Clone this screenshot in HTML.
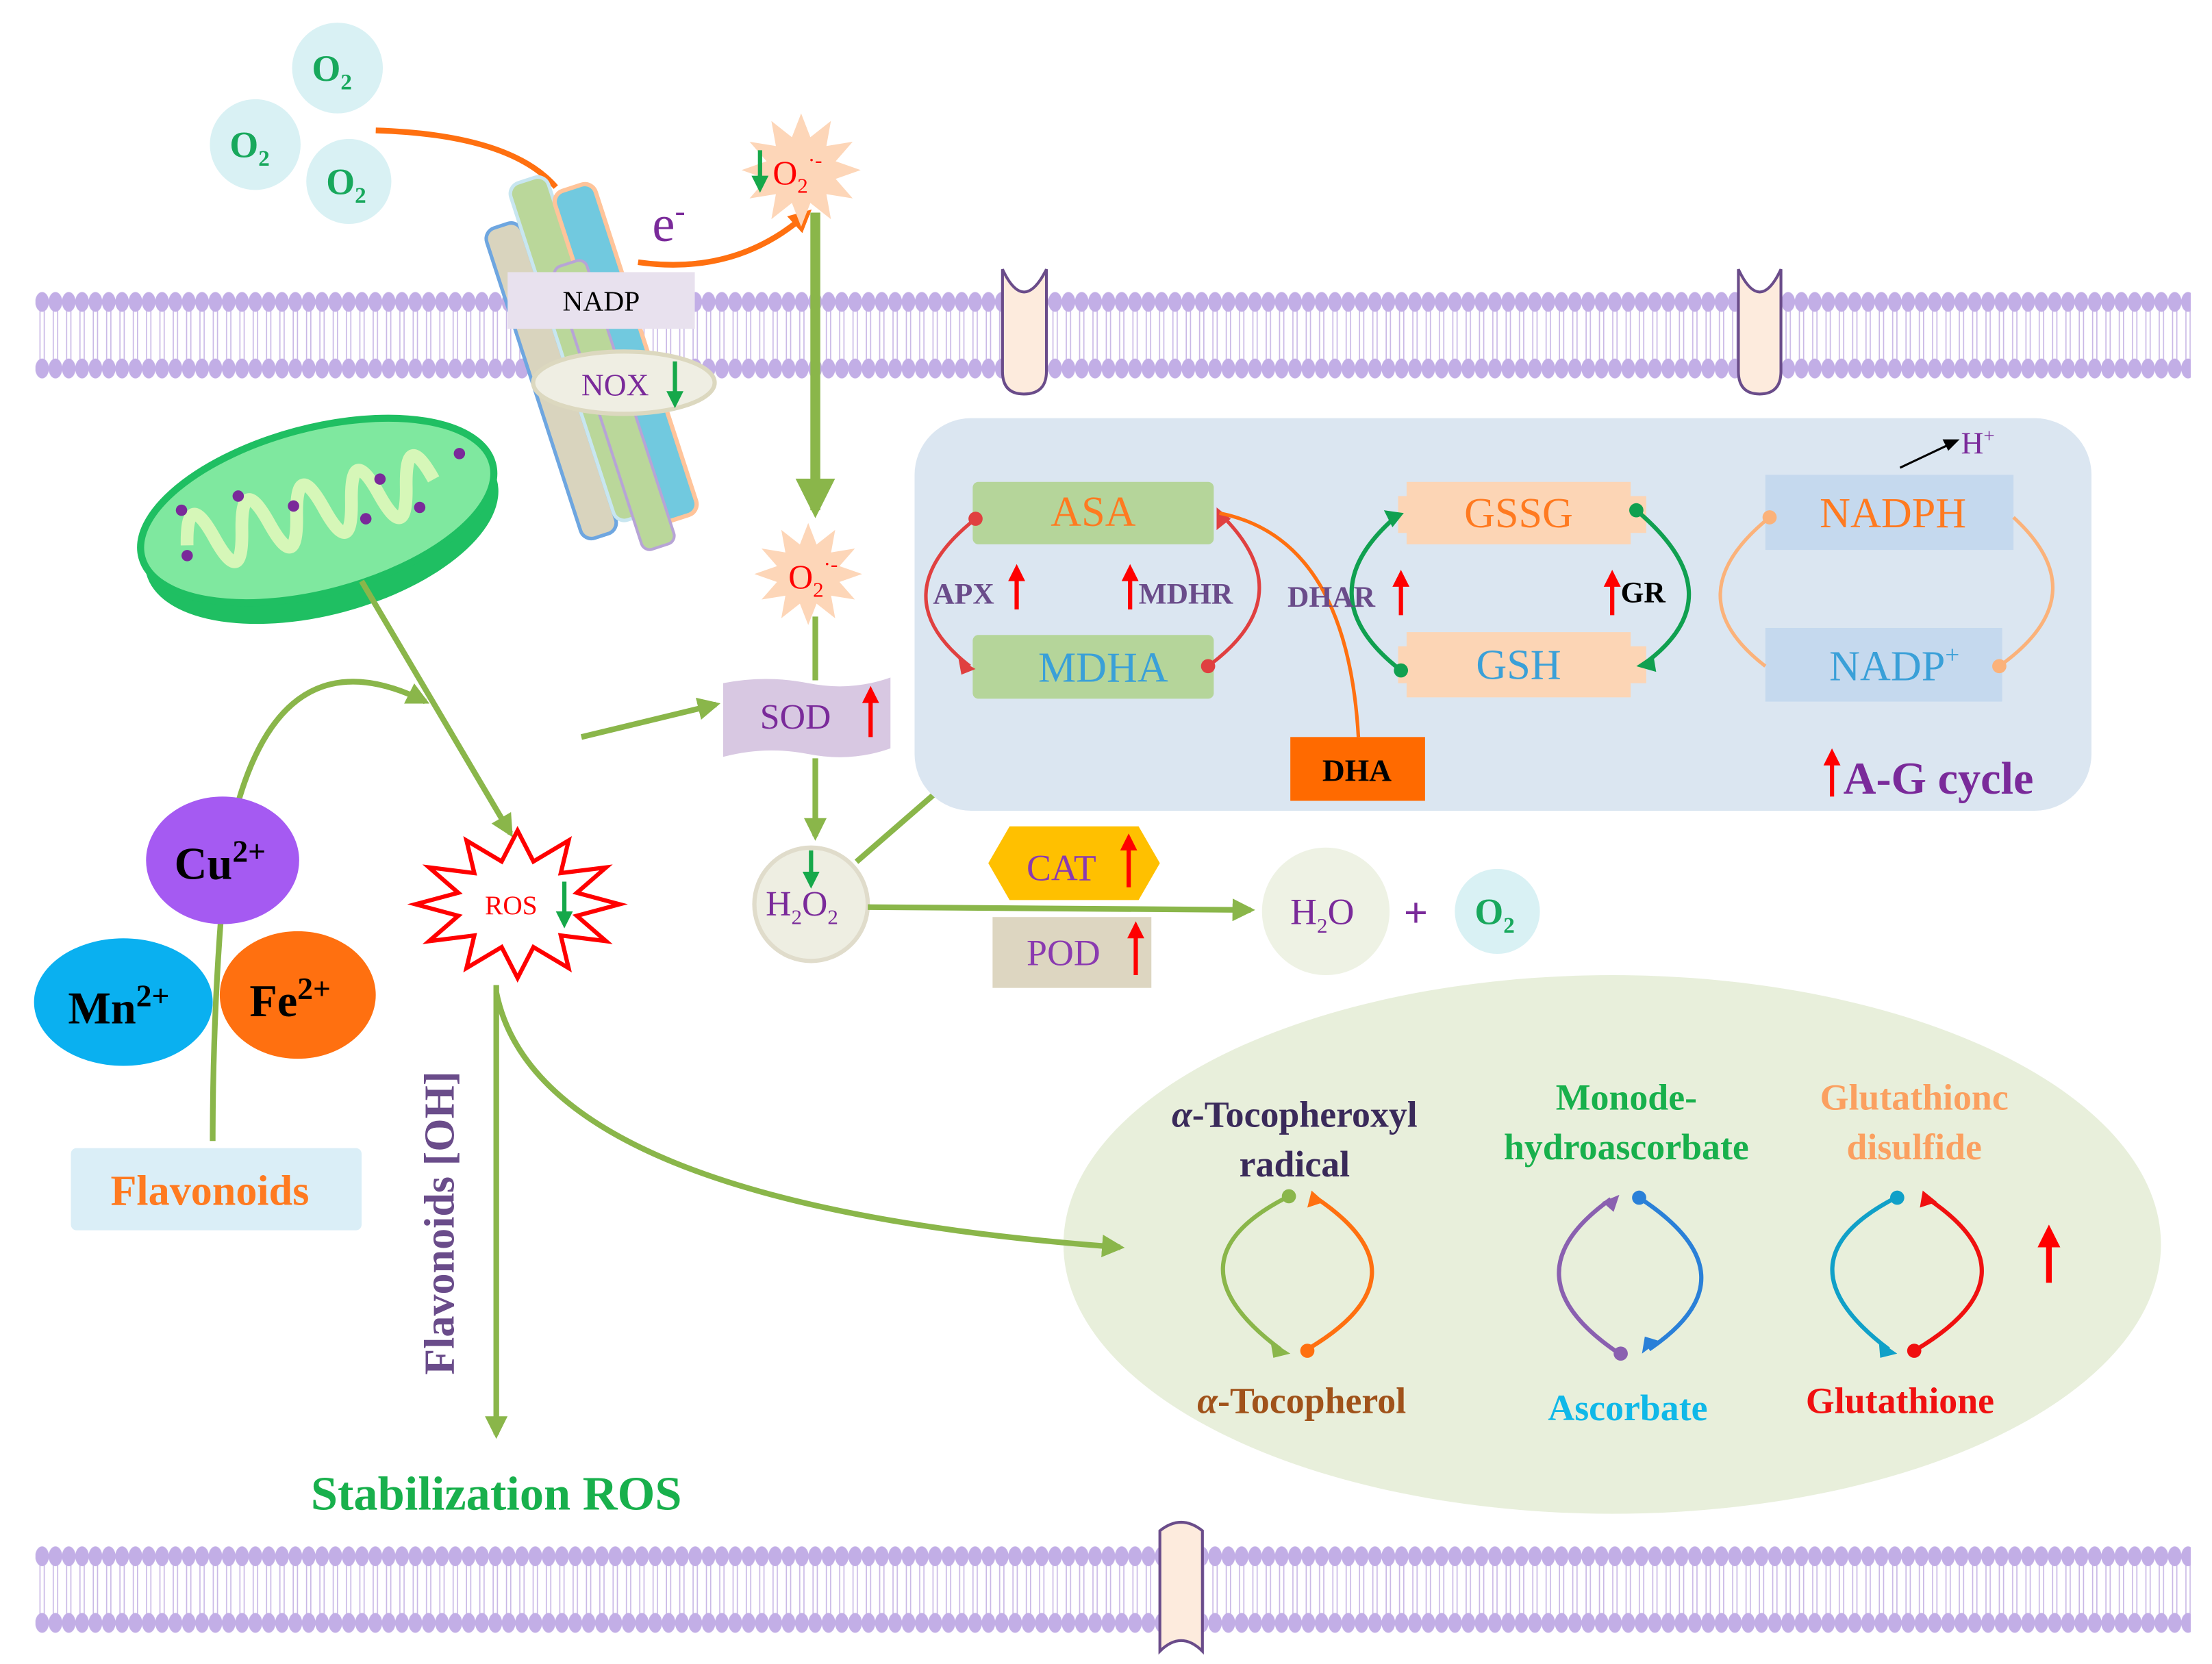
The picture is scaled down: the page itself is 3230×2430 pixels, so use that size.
<!DOCTYPE html>
<html><head><meta charset="utf-8"><style>
html,body{margin:0;padding:0;background:#fff;}
svg{display:block;}
text{font-family:"Liberation Serif",serif;}
</style></head><body>
<svg width="3230" height="2430" viewBox="0 0 1560 1174" preserveAspectRatio="none" xmlns="http://www.w3.org/2000/svg">
<defs>
<pattern id="mem" x="25" y="200" width="9.4" height="72" patternUnits="userSpaceOnUse">
<line x1="3.2" y1="18" x2="3.2" y2="54" stroke="#c9b8e6" stroke-width="0.8"/>
<line x1="6.2" y1="18" x2="6.2" y2="54" stroke="#c9b8e6" stroke-width="0.8"/>
<ellipse cx="4.7" cy="13" rx="4.8" ry="7" fill="#c2aee6"/>
<ellipse cx="4.7" cy="60" rx="4.8" ry="7" fill="#c2aee6"/>
</pattern>
<pattern id="mem2" x="25" y="1085" width="9.4" height="72" patternUnits="userSpaceOnUse">
<line x1="3.2" y1="18" x2="3.2" y2="54" stroke="#c9b8e6" stroke-width="0.8"/>
<line x1="6.2" y1="18" x2="6.2" y2="54" stroke="#c9b8e6" stroke-width="0.8"/>
<ellipse cx="4.7" cy="13" rx="4.8" ry="7" fill="#c2aee6"/>
<ellipse cx="4.7" cy="60" rx="4.8" ry="7" fill="#c2aee6"/>
</pattern>
<polygon id="star" points="1,0 .58,.155 .866,.5 .424,.424 .5,.866 .155,.58 0,1 -.155,.58 -.5,.866 -.424,.424 -.866,.5 -.58,.155 -1,0 -.58,-.155 -.866,-.5 -.424,-.424 -.5,-.866 -.155,-.58 0,-1 .155,-.58 .5,-.866 .424,-.424 .866,-.5 .58,-.155"/>
<marker id="ag" viewBox="0 0 10 10" refX="8" refY="5" markerWidth="4" markerHeight="4" orient="auto"><path d="M0,0 L10,5 L0,10 z" fill="#8ab64a"/></marker>
<marker id="ao" viewBox="0 0 10 10" refX="8" refY="5" markerWidth="4" markerHeight="4" orient="auto"><path d="M0,0 L10,5 L0,10 z" fill="#ff7010"/></marker>
</defs>

<rect x="25" y="200" width="1520" height="72" fill="url(#mem)"/>
<rect x="25" y="1085" width="1520" height="72" fill="url(#mem2)"/>
<path d="M707,190 L707,262 Q707,278 722,278 Q738,278 738,262 L738,190 Q722,222 707,190 Z" fill="#fdebdd" stroke="#6a4c8a" stroke-width="2"/>
<path d="M1226,190 L1226,262 Q1226,278 1241,278 Q1256,278 1256,262 L1256,190 Q1241,222 1226,190 Z" fill="#fdebdd" stroke="#6a4c8a" stroke-width="2"/>
<path d="M818,1080 Q833,1068 848,1080 L848,1165 Q833,1150 818,1165 Z" fill="#fdebdd" stroke="#6a4c8a" stroke-width="2"/>

<circle cx="238" cy="48" r="32" fill="#d9f1f4"/>
<circle cx="180" cy="102" r="32" fill="#d9f1f4"/>
<circle cx="246" cy="128" r="30" fill="#d9f1f4"/>
<g font-weight="bold" fill="#18a85c" font-size="26">
<text x="220" y="57">O<tspan font-size="16" dy="6">2</tspan></text>
<text x="162" y="111">O<tspan font-size="16" dy="6">2</tspan></text>
<text x="230" y="137">O<tspan font-size="16" dy="6">2</tspan></text>
</g>
<path d="M265,92 Q360,95 392,132" fill="none" stroke="#ff7010" stroke-width="4"/>

<g transform="rotate(-18 430 250)">
<rect x="372" y="140" width="26" height="230" rx="8" fill="#d9d4be" stroke="#6ea6e0" stroke-width="2.5"/>
<rect x="398" y="115" width="28" height="250" rx="8" fill="#bad79a" stroke="#c8e6f0" stroke-width="2.5"/>
<rect x="426" y="130" width="30" height="245" rx="8" fill="#71c9df" stroke="#ffc49a" stroke-width="3"/>
<rect x="410" y="180" width="24" height="210" rx="6" fill="#bad79a" stroke="#b7a4d6" stroke-width="2"/>
</g>
<path d="M450,185 Q520,195 570,150" fill="none" stroke="#ff7010" stroke-width="4" marker-end="url(#ao)"/>
<text x="460" y="170" font-size="36" fill="#7a2a9a">e<tspan font-size="22" dy="-14">-</tspan></text>
<rect x="358" y="192" width="132" height="40" fill="#e8e1ee"/>
<text x="424" y="219" font-size="20" text-anchor="middle" fill="#000">NADP</text>
<ellipse cx="440" cy="270" rx="64" ry="22" fill="#efeee3" stroke="#dcd8bf" stroke-width="3"/>
<text x="410" y="279" font-size="22" fill="#7a2a9a">NOX</text>
<path d="M476,255 L476,280" stroke="#16a84a" stroke-width="3"/><path d="M470,276 L476,288 L482,276 Z" fill="#16a84a"/>

<use href="#star" transform="translate(565,120) scale(42,40)" fill="#fdd6b8"/>
<text x="545" y="130" font-size="24" fill="#f00">O<tspan font-size="15" dy="6">2</tspan><tspan font-size="15" dy="-18">·-</tspan></text>
<path d="M536,106 L536,128" stroke="#16a84a" stroke-width="3"/><path d="M530,124 L536,136 L542,124 Z" fill="#16a84a"/>

<line x1="575" y1="150" x2="575" y2="360" stroke="#8ab64a" stroke-width="7" marker-end="url(#ag)"/>
<use href="#star" transform="translate(570,405) scale(38,36)" fill="#fdd6b8"/>
<text x="556" y="415" font-size="24" fill="#f00">O<tspan font-size="15" dy="6">2</tspan><tspan font-size="15" dy="-18">·-</tspan></text>
<line x1="575" y1="435" x2="575" y2="480" stroke="#8ab64a" stroke-width="4"/>
<line x1="575" y1="535" x2="575" y2="590" stroke="#8ab64a" stroke-width="4" marker-end="url(#ag)"/>
<path d="M510,482 Q540,476 570,482 Q600,488 628,478 L628,528 Q600,538 570,532 Q540,526 510,534 Z" fill="#d8c8e2"/>
<text x="536" y="514" font-size="25" fill="#7a2a9a">SOD</text>
<path d="M614,490 L614,520" stroke="#f00" stroke-width="3"/><path d="M608,496 L614,484 L620,496 Z" fill="#f00"/>

<g transform="rotate(-15 225 365)">
<ellipse cx="225" cy="372" rx="128" ry="62" fill="#1fbf62"/>
<ellipse cx="225" cy="360" rx="128" ry="58" fill="#7fe89f" stroke="#1fbf62" stroke-width="5"/>
<path d="M130,360 Q140,320 150,360 Q160,400 170,360 Q180,320 190,360 Q200,400 210,360 Q220,320 230,360 Q240,400 250,360 Q260,320 270,360 Q280,400 290,360 Q300,320 310,360" fill="none" stroke="#d6f7b8" stroke-width="9"/>
</g>
<g fill="#7a2a9a"><circle cx="128" cy="360" r="4"/><circle cx="168" cy="350" r="4"/><circle cx="207" cy="357" r="4"/><circle cx="258" cy="366" r="4"/><circle cx="268" cy="338" r="4"/><circle cx="296" cy="358" r="4"/><circle cx="324" cy="320" r="4"/><circle cx="132" cy="392" r="4"/></g>

<line x1="255" y1="410" x2="360" y2="588" stroke="#8ab64a" stroke-width="4" marker-end="url(#ag)"/>
<path d="M150,805 Q150,700 160,600 Q190,440 300,495" fill="none" stroke="#8ab64a" stroke-width="4" marker-end="url(#ag)"/>
<line x1="410" y1="520" x2="505" y2="497" stroke="#8ab64a" stroke-width="4" marker-end="url(#ag)"/>

<ellipse cx="157" cy="607" rx="54" ry="45" fill="#a55af2"/>
<ellipse cx="87" cy="707" rx="63" ry="45" fill="#0ab0f0"/>
<ellipse cx="210" cy="702" rx="55" ry="45" fill="#ff7010"/>
<g font-weight="bold" font-size="32" fill="#000">
<text x="123" y="620">Cu<tspan font-size="22" dy="-12">2+</tspan></text>
<text x="48" y="722">Mn<tspan font-size="22" dy="-12">2+</tspan></text>
<text x="176" y="717">Fe<tspan font-size="22" dy="-12">2+</tspan></text>
</g>
<rect x="50" y="810" width="205" height="58" rx="4" fill="#daeef7"/>
<text x="148" y="850" font-size="30" font-weight="bold" fill="#ff7a20" text-anchor="middle">Flavonoids</text>

<polygon points="437,638 406.8,646.1 427.4,664 395.5,660 401,683 376.2,668.2 365,690 353.8,668.2 329,683 334.5,660 302.6,664 323.2,646.1 293,638 323.2,629.9 302.6,612 334.5,616 329,593 353.8,607.8 365,586 376.2,607.8 401,593 395.5,616 427.4,612 406.8,629.9" fill="#fff" stroke="#f00" stroke-width="3"/>
<text x="342" y="645" font-size="19" fill="#f00">ROS</text>
<path d="M398,622 L398,646" stroke="#16a84a" stroke-width="3"/><path d="M392,643 L398,655 L404,643 Z" fill="#16a84a"/>
<line x1="350" y1="695" x2="350" y2="1012" stroke="#8ab64a" stroke-width="4" marker-end="url(#ag)"/>
<text transform="translate(320,970) rotate(-90)" font-size="30" font-weight="bold" fill="#6a4c8a">Flavonoids [OH]</text>
<text x="350" y="1065" font-size="34" font-weight="bold" fill="#18b04c" text-anchor="middle">Stabilization ROS</text>

<circle cx="572" cy="638" r="40" fill="#eeeee2" stroke="#e0dccb" stroke-width="3"/>
<text x="540" y="646" font-size="25" fill="#7a2a9a">H<tspan font-size="15" dy="6">2</tspan><tspan dy="-6">O</tspan><tspan font-size="15" dy="6">2</tspan></text>
<path d="M572,600 L572,618" stroke="#16a84a" stroke-width="3"/><path d="M566,615 L572,627 L578,615 Z" fill="#16a84a"/>
<line x1="604" y1="608" x2="688" y2="535" stroke="#8ab64a" stroke-width="4" marker-end="url(#ag)"/>
<line x1="612" y1="640" x2="882" y2="642" stroke="#8ab64a" stroke-width="4" marker-end="url(#ag)"/>
<polygon points="697,609 712,583 803,583 818,609 803,635 712,635" fill="#ffc000"/>
<text x="724" y="621" font-size="26" fill="#8a3ab0">CAT</text>
<path d="M796,595 L796,626" stroke="#f00" stroke-width="3"/><path d="M790,600 L796,588 L802,600 Z" fill="#f00"/>
<rect x="700" y="647" width="112" height="50" fill="#ddd6c1"/>
<text x="724" y="681" font-size="26" fill="#8a3ab0">POD</text>
<path d="M801,657 L801,688" stroke="#f00" stroke-width="3"/><path d="M795,662 L801,650 L807,662 Z" fill="#f00"/>
<circle cx="935" cy="643" r="45" fill="#eef2e4"/>
<text x="910" y="652" font-size="26" fill="#7a2a9a">H<tspan font-size="15" dy="6">2</tspan><tspan dy="-6">O</tspan></text>
<text x="990" y="654" font-size="30" font-weight="bold" fill="#7a2a9a">+</text>
<circle cx="1056" cy="643" r="30" fill="#d9f1f4"/>
<text x="1040" y="652" font-size="26" font-weight="bold" fill="#18a85c">O<tspan font-size="16" dy="6">2</tspan></text>

<rect x="645" y="295" width="830" height="277" rx="40" fill="#dbe6f1"/>
<rect x="686" y="340" width="170" height="44" rx="4" fill="#b5d59a"/>
<text x="771" y="371" font-size="30" fill="#ff7a20" text-anchor="middle">ASA</text>
<rect x="686" y="448" width="170" height="45" rx="4" fill="#b5d59a"/>
<text x="778" y="481" font-size="30" fill="#3aa0d8" text-anchor="middle">MDHA</text>
<path d="M688,366 Q620,420 684,470" fill="none" stroke="#e04040" stroke-width="2.5"/>
<circle cx="688" cy="366" r="5" fill="#e04040"/><path d="M676,465 L688,472 L678,476 Z" fill="#e04040"/>
<path d="M852,470 Q920,420 860,362" fill="none" stroke="#e04040" stroke-width="2.5"/>
<circle cx="852" cy="470" r="5" fill="#e04040"/><path d="M858,374 L858,358 L868,366 Z" fill="#e04040"/>
<text x="658" y="426" font-size="21" font-weight="bold" fill="#6a4c8a">APX</text>
<path d="M717,404 L717,430" stroke="#f00" stroke-width="3"/><path d="M711,410 L717,398 L723,410 Z" fill="#f00"/>
<path d="M797,404 L797,430" stroke="#f00" stroke-width="3"/><path d="M791,410 L797,398 L803,410 Z" fill="#f00"/>
<text x="803" y="426" font-size="21" font-weight="bold" fill="#6a4c8a">MDHR</text>
<path d="M958,520 Q950,380 860,362" fill="none" stroke="#ff7010" stroke-width="2.5"/>
<rect x="910" y="520" width="95" height="45" fill="#ff6a00"/>
<text x="957" y="551" font-size="22" font-weight="bold" fill="#000" text-anchor="middle">DHA</text>
<path d="M992,340 L1150,340 L1150,384 L992,384 Z" fill="#fcd5b5"/>
<rect x="986" y="350" width="175" height="26" fill="#fcd5b5"/>
<text x="1071" y="372" font-size="30" fill="#ff7a20" text-anchor="middle">GSSG</text>
<path d="M992,446 L1150,446 L1150,492 L992,492 Z" fill="#fcd5b5"/>
<rect x="986" y="456" width="175" height="26" fill="#fcd5b5"/>
<text x="1071" y="479" font-size="30" fill="#3aa0d8" text-anchor="middle">GSH</text>
<path d="M988,473 Q920,420 985,364" fill="none" stroke="#10a050" stroke-width="3"/>
<circle cx="988" cy="473" r="5" fill="#10a050"/><path d="M976,360 L990,362 L982,372 Z" fill="#10a050"/>
<path d="M1154,360 Q1225,420 1160,468" fill="none" stroke="#10a050" stroke-width="3"/>
<circle cx="1154" cy="360" r="5" fill="#10a050"/><path d="M1166,462 L1154,470 L1168,474 Z" fill="#10a050"/>
<text x="908" y="428" font-size="21" font-weight="bold" fill="#6a4c8a">DHAR</text>
<path d="M988,408 L988,434" stroke="#f00" stroke-width="3"/><path d="M982,414 L988,402 L994,414 Z" fill="#f00"/>
<path d="M1137,408 L1137,434" stroke="#f00" stroke-width="3"/><path d="M1131,414 L1137,402 L1143,414 Z" fill="#f00"/>
<text x="1143" y="425" font-size="21" font-weight="bold" fill="#000">GR</text>
<rect x="1245" y="335" width="175" height="53" fill="#c5d9ee"/>
<text x="1335" y="372" font-size="30" fill="#ff7a20" text-anchor="middle">NADPH</text>
<rect x="1245" y="443" width="167" height="52" fill="#c5d9ee"/>
<text x="1336" y="480" font-size="30" fill="#3aa0d8" text-anchor="middle">NADP<tspan font-size="18" dy="-12">+</tspan></text>
<path d="M1248,365 Q1180,420 1245,470" fill="none" stroke="#fbb27a" stroke-width="2.5"/>
<circle cx="1248" cy="365" r="5" fill="#fbb27a"/>
<path d="M1410,470 Q1480,420 1420,365" fill="none" stroke="#fbb27a" stroke-width="2.5"/>
<circle cx="1410" cy="470" r="5" fill="#fbb27a"/>
<line x1="1340" y1="330" x2="1378" y2="312" stroke="#000" stroke-width="1.5"/><path d="M1370,310 L1382,310 L1374,318 Z" fill="#000"/>
<text x="1383" y="320" font-size="22" fill="#7a2a9a">H<tspan font-size="14" dy="-8">+</tspan></text>
<path d="M1292,534 L1292,562" stroke="#f00" stroke-width="3"/><path d="M1286,540 L1292,528 L1298,540 Z" fill="#f00"/>
<text x="1300" y="560" font-size="32" font-weight="bold" fill="#7a2a9a">A-G cycle</text>

<ellipse cx="1137" cy="878" rx="387" ry="190" fill="#e8efdb"/>
<path d="M350,700 Q380,850 790,880" fill="none" stroke="#8ab64a" stroke-width="4" marker-end="url(#ag)"/>
<g font-size="26" font-weight="bold" text-anchor="middle">
<text x="913" y="795" fill="#3a2a5a"><tspan font-style="italic">α</tspan>-Tocopheroxyl</text>
<text x="913" y="830" fill="#3a2a5a">radical</text>
<text x="1147" y="783" fill="#18b04c">Monode-</text>
<text x="1147" y="818" fill="#18b04c">hydroascorbate</text>
<text x="1350" y="783" fill="#fba060">Glutathionc</text>
<text x="1350" y="818" fill="#fba060">disulfide</text>
<text x="918" y="997" fill="#a0521a"><tspan font-style="italic">α</tspan>-Tocopherol</text>
<text x="1148" y="1002" fill="#10b8e8">Ascorbate</text>
<text x="1340" y="997" fill="#f01010">Glutathione</text>
</g>
<path d="M907,845 Q820,890 903,952" fill="none" stroke="#8ab64a" stroke-width="3"/><circle cx="909" cy="844" r="5" fill="#8ab64a"/><path d="M896,946 L910,955 L898,958 Z" fill="#8ab64a"/>
<path d="M922,952 Q1010,900 928,845" fill="none" stroke="#ff7010" stroke-width="3"/><circle cx="922" cy="953" r="5" fill="#ff7010"/><path d="M922,852 L925,840 L934,848 Z" fill="#ff7010"/>
<path d="M1142,955 Q1060,900 1136,846" fill="none" stroke="#8a60b0" stroke-width="3"/><circle cx="1143" cy="955" r="5" fill="#8a60b0"/><path d="M1130,848 L1142,843 L1138,855 Z" fill="#8a60b0"/>
<path d="M1156,845 Q1240,900 1163,952" fill="none" stroke="#2a80d8" stroke-width="3"/><circle cx="1156" cy="845" r="5" fill="#2a80d8"/><path d="M1170,946 L1158,955 L1160,943 Z" fill="#2a80d8"/>
<path d="M1337,845 Q1250,890 1332,952" fill="none" stroke="#10a0c8" stroke-width="3"/><circle cx="1338" cy="845" r="5" fill="#10a0c8"/><path d="M1325,946 L1338,955 L1326,958 Z" fill="#10a0c8"/>
<path d="M1350,953 Q1440,900 1360,846" fill="none" stroke="#f01010" stroke-width="3"/><circle cx="1350" cy="953" r="5" fill="#f01010"/><path d="M1354,852 L1356,840 L1366,848 Z" fill="#f01010"/>
<path d="M1445,872 L1445,905" stroke="#f00" stroke-width="4"/><path d="M1437,880 L1445,864 L1453,880 Z" fill="#f00"/>
</svg>
</body></html>
